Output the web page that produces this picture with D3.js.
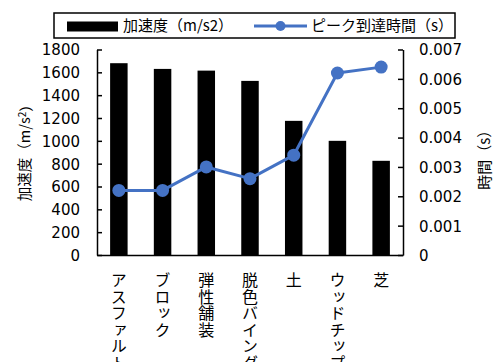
<!DOCTYPE html>
<html>
<head>
<meta charset="utf-8">
<script src="https://cdn.jsdelivr.net/npm/d3@7"></script>
<style>
  html, body { margin: 0; padding: 0; background: #fff; }
  svg { display: block; }
  .num { font-family: "DejaVu Sans", Verdana, sans-serif; font-size: 15px; fill: #000; }
  .jp { font-family: "Noto Sans CJK JP", "DejaVu Sans", sans-serif; fill: #000; }
</style>
</head>
<body>
<script>
// Surface types and measured values
const categories = ["アスファルト", "ブロック", "弾性舗装", "脱色バインダ", "土", "ウッドチップ", "芝"];
const acceleration = [1680, 1630, 1615, 1525, 1175, 1000, 825];          // m/s2
const peakTime = [0.0022, 0.0022, 0.0030, 0.0026, 0.0034, 0.0062, 0.0064]; // s
const leftTicks = [0, 200, 400, 600, 800, 1000, 1200, 1400, 1600, 1800];
const rightTicks = [0, 0.001, 0.002, 0.003, 0.004, 0.005, 0.006, 0.007];

const W = 493, H = 362;
const plot = { left: 97, right: 403, top: 49.5, bottom: 255 };
const blue = "#4472C4";

const svg = d3.select("body").append("svg").attr("width", W).attr("height", H);

const x = d3.scaleBand().domain(categories).range([plot.left, plot.right]).paddingInner(0).paddingOuter(0);
const yL = d3.scaleLinear().domain([0, 1800]).range([plot.bottom, plot.top]);
const yR = d3.scaleLinear().domain([0, 0.007]).range([plot.bottom, plot.top]);

const barW = x.bandwidth() * 0.4;

// Bars
svg.append("g").selectAll("rect").data(categories).join("rect")
  .attr("x", d => x(d) + (x.bandwidth() - barW) / 2)
  .attr("width", barW)
  .attr("y", (d, i) => yL(acceleration[i]))
  .attr("height", (d, i) => yL(0) - yL(acceleration[i]))
  .attr("fill", "#000");

// Left axis (ticks inside)
const axL = svg.append("g").attr("transform", `translate(${plot.left},0)`)
  .call(d3.axisLeft(yL).tickValues(leftTicks).tickSizeInner(-5).tickSizeOuter(0).tickFormat(d3.format("d")));
axL.select(".domain").attr("stroke", "#000").attr("stroke-width", 1.5);
axL.selectAll(".tick line").attr("stroke", "#000").attr("stroke-width", 1.5);
axL.selectAll(".tick text").attr("class", "num").attr("x", -17).attr("dy", "0.36em").attr("text-anchor", "end");

// Right axis (ticks inside)
const axR = svg.append("g").attr("transform", `translate(${plot.right},0)`)
  .call(d3.axisRight(yR).tickValues(rightTicks).tickSizeInner(-5).tickSizeOuter(0).tickFormat(d => d === 0 ? "0" : d3.format(".3f")(d)));
axR.select(".domain").attr("stroke", "#000").attr("stroke-width", 1.5);
axR.selectAll(".tick line").attr("stroke", "#000").attr("stroke-width", 1.5);
axR.selectAll(".tick text").attr("class", "num").attr("x", 16).attr("dy", "0.36em").attr("text-anchor", "start");

// Bottom axis line with vertical category labels
const axB = svg.append("g").attr("transform", `translate(0,${plot.bottom})`)
  .call(d3.axisBottom(x).tickSize(0).tickSizeOuter(0));
axB.select(".domain").attr("stroke", "#000").attr("stroke-width", 1.5);
axB.selectAll(".tick text")
  .attr("class", "jp")
  .attr("y", 17).attr("dy", 0)
  .attr("text-anchor", "start")
  .style("font-size", "16px")
  .style("letter-spacing", "0.6px")
  .style("writing-mode", "vertical-rl")
  .style("text-orientation", "upright");

// Peak time line
const line = d3.line().x(d => x(d.c) + x.bandwidth() / 2).y(d => yR(d.v));
const pts = categories.map((c, i) => ({ c, v: peakTime[i] }));
svg.append("path").datum(pts).attr("d", line)
  .attr("fill", "none").attr("stroke", blue).attr("stroke-width", 3).attr("stroke-linejoin", "round");
svg.append("g").selectAll("circle").data(pts).join("circle")
  .attr("cx", d => x(d.c) + x.bandwidth() / 2).attr("cy", d => yR(d.v))
  .attr("r", 6.5).attr("fill", blue);

// Axis titles
const tL = svg.append("text").attr("class", "jp")
  .attr("transform", `translate(25,${(plot.top + plot.bottom) / 2 - 3}) rotate(-90)`)
  .attr("text-anchor", "middle").attr("dy", "0.35em").style("font-size", "14.5px");
tL.append("tspan").text("加速度（m/s");
tL.append("tspan").attr("dy", "-0.4em").style("font-size", "10px").text("2");
tL.append("tspan").attr("dy", "0.4em").text("）");

svg.append("text").attr("class", "jp")
  .attr("transform", `translate(485,${(plot.top + plot.bottom) / 2 + 4}) rotate(-90)`)
  .attr("text-anchor", "middle").attr("dy", "0.35em").style("font-size", "15px")
  .text("時間（s）");

// Legend
const lg = svg.append("g");
lg.append("rect").attr("x", 54).attr("y", 13).attr("width", 401).attr("height", 25)
  .attr("fill", "#fff").attr("stroke", "#000").attr("stroke-width", 1.5);
lg.append("rect").attr("x", 67).attr("y", 21.5).attr("width", 51).attr("height", 10).attr("fill", "#000");
lg.append("text").attr("class", "jp").attr("x", 123).attr("y", 26).attr("dy", "0.35em")
  .style("font-size", "15px").text("加速度（m/s2）");
lg.append("line").attr("x1", 254).attr("x2", 307).attr("y1", 26).attr("y2", 26)
  .attr("stroke", blue).attr("stroke-width", 3);
lg.append("circle").attr("cx", 280.5).attr("cy", 26).attr("r", 5).attr("fill", blue);
lg.append("text").attr("class", "jp").attr("x", 311).attr("y", 26).attr("dy", "0.35em")
  .style("font-size", "15px").text("ピーク到達時間（s）");
</script>
</body>
</html>
